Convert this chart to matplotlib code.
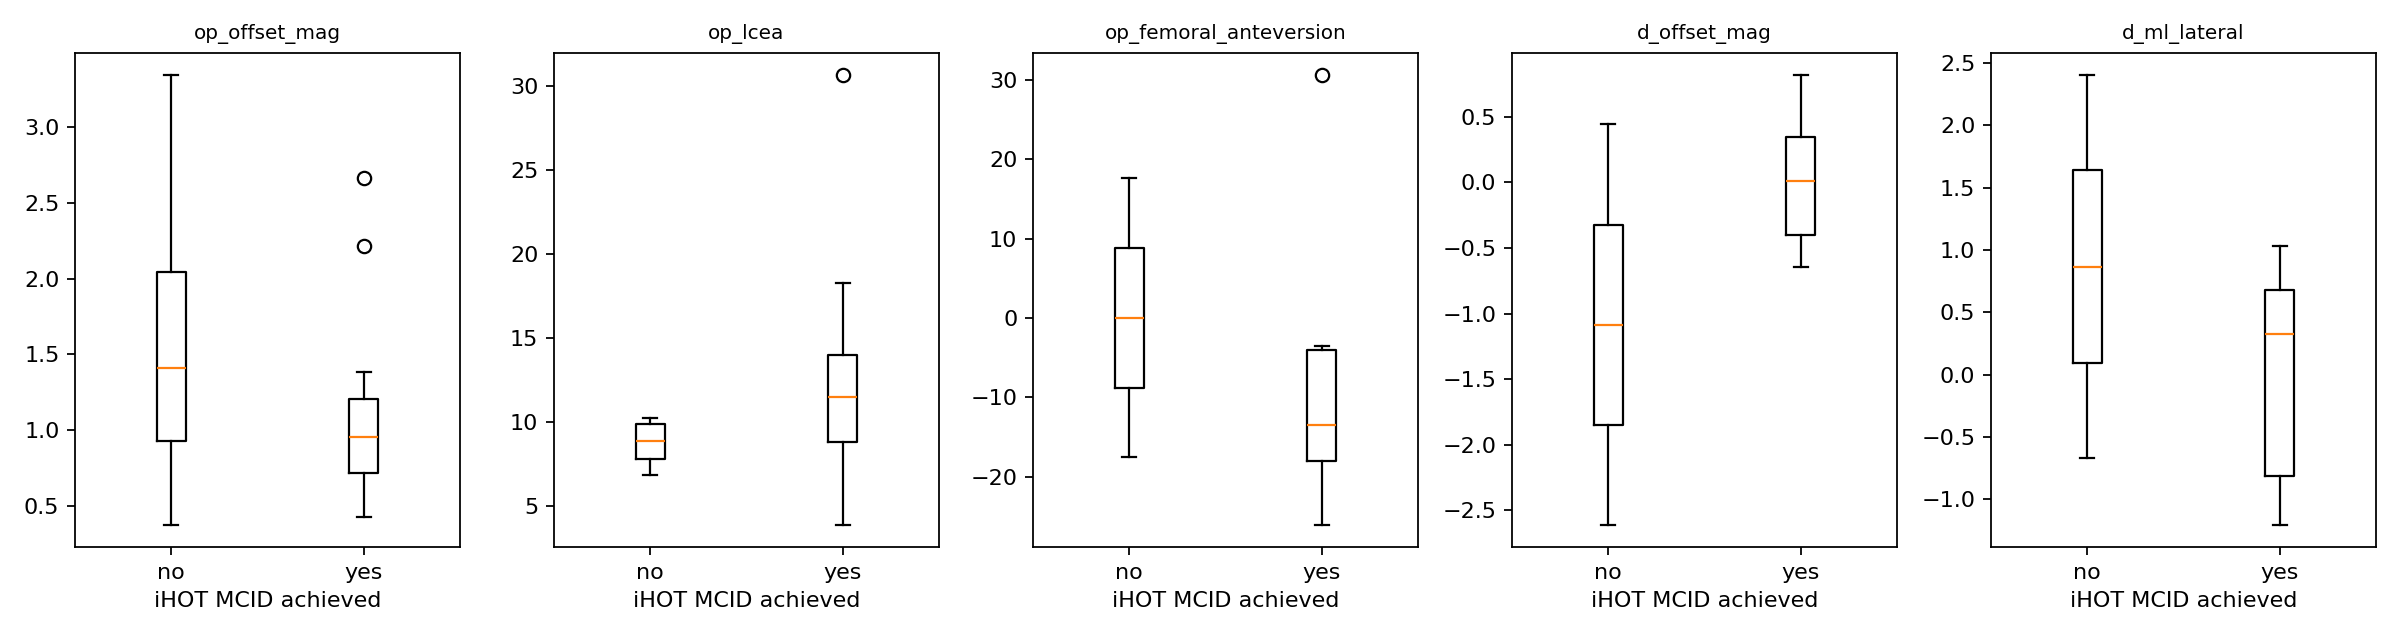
import matplotlib
matplotlib.use("Agg")
import matplotlib.pyplot as plt

# features compared between patients who did / did not reach the iHOT MCID
features = ["op_offset_mag", "op_lcea", "op_femoral_anteversion", "d_offset_mag", "d_ml_lateral"]
groups = ["no", "yes"]

# box stats: [whislo, q1, median, q3, whishi]
no_stats = [
    [0.375, 0.93, 1.409, 2.047, 3.346],
    [6.85, 7.75, 8.83, 9.88, 10.24],
    [-17.54, -8.82, 0.0, 8.78, 17.6],
    [-2.607, -1.852, -1.087, -0.322, 0.443],
    [-0.670, 0.096, 0.865, 1.640, 2.403],
]
yes_stats = [
    [0.427, 0.719, 0.951, 1.203, 1.382],
    [3.87, 8.78, 11.47, 13.98, 18.23],
    [-26.0, -18.05, -13.51, -4.02, -3.5],
    [-0.643, -0.397, 0.015, 0.349, 0.818],
    [-1.203, -0.814, 0.325, 0.680, 1.029],
]
no_fliers = [[], [], [], [], []]
yes_fliers = [[2.215, 2.664], [30.64], [30.56], [], []]


def make_stats(s, fl, label):
    return {"whislo": s[0], "q1": s[1], "med": s[2], "q3": s[3],
            "whishi": s[4], "fliers": fl, "label": label}


fig, axes = plt.subplots(1, 5, figsize=(15, 4), dpi=160)

for i, ax in enumerate(axes):
    stats = [make_stats(no_stats[i], no_fliers[i], groups[0]),
             make_stats(yes_stats[i], yes_fliers[i], groups[1])]
    ax.bxp(stats, showfliers=True)
    ax.set_title(features[i], fontsize=9)
    ax.set_xlabel("iHOT MCID achieved")

plt.subplots_adjust(left=0.03125, right=0.99, bottom=0.1453, top=0.9177, wspace=0.244)
plt.savefig("out.png", dpi=160)
